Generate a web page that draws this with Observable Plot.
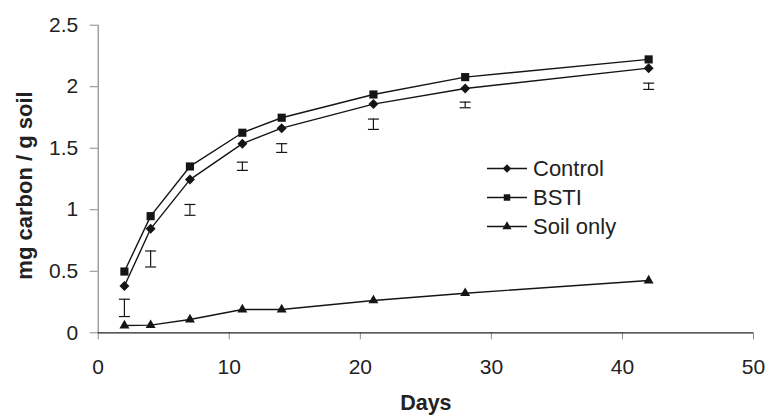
<!DOCTYPE html>
<html><head><meta charset="utf-8">
<script src="https://cdn.jsdelivr.net/npm/d3@7"></script>
<script src="https://cdn.jsdelivr.net/npm/@observablehq/plot@0.6"></script>
<style>
body{margin:0;background:#fff;font-family:"Liberation Sans",Arial,sans-serif;}
#wrap{position:relative;width:767px;height:416px;background:#fff;}
#legend{position:absolute;left:487px;top:153.5px;}
.row{display:flex;align-items:center;height:29px;}
.row span{font-size:22px;color:#222;margin-left:6px;white-space:nowrap;line-height:29px;}
.row svg{display:block;}
</style></head><body><div id="wrap"></div>
<script>
const days = [2, 4, 7, 11, 14, 21, 28, 42];
const control = [0.38, 0.845, 1.245, 1.537, 1.663, 1.859, 1.986, 2.151];
const bsti = [0.498, 0.948, 1.352, 1.626, 1.748, 1.937, 2.078, 2.222];
const soilOnly = [0.059, 0.062, 0.108, 0.189, 0.189, 0.263, 0.322, 0.425];
const errLow = [0.132, 0.535, 0.955, 1.32, 1.466, 1.653, 1.829, 1.978];
const errHigh = [0.273, 0.665, 1.043, 1.387, 1.537, 1.737, 1.875, 2.029];
const seriesNames = ["Control", "BSTI", "Soil only"];
const xTicks = [0, 10, 20, 30, 40, 50];
const xTickLabels = ["0", "10", "20", "30", "40", "50"];
const yTicks = [0, 0.5, 1, 1.5, 2, 2.5];
const yTickLabels = ["0", "0.5", "1", "1.5", "2", "2.5"];
const xTitle = "Days";
const yTitle = "mg carbon / g soil";

const ink = "#151515";
const seriesValues = [control, bsti, soilOnly];
const symbolNames = ["diamond2", "square", "triangle"];
const symbolR = [4.5, 4.6, 3.7];
const rows = [];
seriesNames.forEach((s, k) => days.forEach((d, i) => rows.push({series: s, day: d, value: seriesValues[k][i]})));
const errRows = days.map((d, i) => ({day: d, lo: errLow[i], hi: errHigh[i]}));
const capSymbol = {draw(ctx, size) { ctx.moveTo(-5.5, 0); ctx.lineTo(5.5, 0); }};

const marks = [
  Plot.axisX({ticks: xTicks, tickFormat: d => xTickLabels[xTicks.indexOf(d)], tickSize: 7, tickPadding: 19, stroke: "#8a8a8a", fill: "#222", label: null, fontSize: 21}),
  Plot.axisY({ticks: yTicks, tickFormat: d => yTickLabels[yTicks.indexOf(d)], tickSize: 8, tickPadding: 12, stroke: "#8a8a8a", fill: "#222", label: null, fontSize: 21}),
  Plot.ruleX([0], {stroke: "#8a8a8a", strokeWidth: 1.2}),
  Plot.ruleY([0], {stroke: "#222", strokeWidth: 1.3}),
  Plot.ruleX(errRows, {x: "day", y1: "lo", y2: "hi", stroke: ink, strokeWidth: 1.2}),
  Plot.dot(errRows, {x: "day", y: "lo", symbol: capSymbol, stroke: ink, strokeWidth: 1.2, fill: "none", r: 3}),
  Plot.dot(errRows, {x: "day", y: "hi", symbol: capSymbol, stroke: ink, strokeWidth: 1.2, fill: "none", r: 3})
];
seriesNames.forEach((s, k) => {
  const data = rows.filter(r => r.series === s);
  marks.push(Plot.line(data, {x: "day", y: "value", stroke: ink, strokeWidth: 1.4}));
  marks.push(Plot.dot(data, {x: "day", y: "value", symbol: () => symbolNames[k], r: symbolR[k], fill: ink, stroke: "none"}));
});
marks.push(Plot.text([xTitle], {frameAnchor: "bottom", lineAnchor: "middle", textAnchor: "middle", dy: 70.5, fontWeight: "bold", fontSize: 21.5, fill: "#222"}));
marks.push(Plot.text([yTitle], {frameAnchor: "left", lineAnchor: "middle", textAnchor: "middle", rotate: -90, dx: -73, dy: 6.5, fontWeight: "bold", fontSize: 22, fill: "#222"}));

const chart = Plot.plot({
  width: 767, height: 416,
  marginLeft: 97.7, marginRight: 14, marginTop: 24.7, marginBottom: 83.7,
  style: {fontFamily: '"Liberation Sans", Arial, sans-serif', fontSize: "21px", color: "#222", background: "#fff", overflow: "visible"},
  x: {domain: [0, 50]},
  y: {domain: [0, 2.5]},
  symbol: {type: "identity"},
  marks
});
const wrap = document.getElementById("wrap");
wrap.appendChild(chart);

// legend
const legend = document.createElement("div");
legend.id = "legend";
const d3Symbols = [d3.symbolDiamond2, d3.symbolSquare, d3.symbolTriangle];
const legendSizes = [45, 42, 36];
seriesNames.forEach((s, k) => {
  const row = document.createElement("div");
  row.className = "row";
  const svg = d3.create("svg").attr("width", 40).attr("height", 29);
  svg.append("line").attr("x1", 0).attr("x2", 40).attr("y1", 14.5).attr("y2", 14.5).attr("stroke", ink).attr("stroke-width", 1.4);
  svg.append("path").attr("transform", "translate(20,14.5)").attr("d", d3.symbol(d3Symbols[k], legendSizes[k])()).attr("fill", ink);
  row.appendChild(svg.node());
  const span = document.createElement("span");
  span.textContent = s;
  row.appendChild(span);
  legend.appendChild(row);
});
wrap.appendChild(legend);
</script>
</body></html>
